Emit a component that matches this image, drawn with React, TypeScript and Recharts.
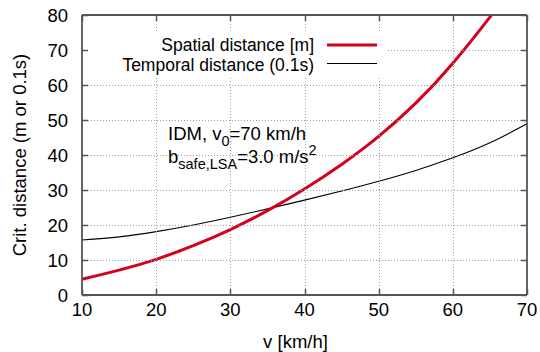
import { LineChart, Line, XAxis, YAxis, Legend } from "recharts";

// spatial critical distance [m] vs speed [km/h]; last point leaves the plot at the top
const spatialSpeeds = [10, 15, 20, 25, 30, 35, 40, 45, 50, 55, 60, 65, 66];
const spatialDistance = [4.5, 7.1, 10.2, 14.1, 18.7, 24.1, 30.3, 37.3, 45.3, 54.8, 66.2, 79.4, 82.2];

// temporal critical distance [0.1 s]
const temporalSpeeds = [10, 15, 20, 25, 30, 35, 40, 45, 50, 55, 60, 65, 70];
const temporalDistance = [15.7, 16.6, 18.1, 20.0, 22.2, 24.6, 27.1, 29.7, 32.5, 35.6, 39.2, 43.5, 48.9];

const xTicks = [10, 20, 30, 40, 50, 60, 70];
const yTicks = [0, 10, 20, 30, 40, 50, 60, 70, 80];

const X_MIN = 10;
const X_MAX = 70;
const Y_MIN = 0;
const Y_MAX = 80;

const spatialData = spatialSpeeds.map((v, i) => ({ v, d: spatialDistance[i] }));
const temporalData = temporalSpeeds.map((v, i) => ({ v, d: temporalDistance[i] }));

const W = 540;
const H = 352;
const MARGIN = { top: 15, right: 13, bottom: 0, left: 0 };
const Y_AXIS_W = 82;
const X_AXIS_H = 57;

// plot box from the layout above, for the grid overlay
const PL = MARGIN.left + Y_AXIS_W;
const PR = W - MARGIN.right;
const PT = MARGIN.top;
const PB = H - MARGIN.bottom - X_AXIS_H;
const sx = (v: number) => Math.round(PL + ((v - X_MIN) / (X_MAX - X_MIN)) * (PR - PL)) + 0.5;
const sy = (d: number) => Math.round(PB - ((d - Y_MIN) / (Y_MAX - Y_MIN)) * (PB - PT)) + 0.5;

const RED = "#d4001f";
const BORDER = "#555";
const GRID = "#a0a0a0";
const FONT = 18.5;
const TICK = 6;

const borderLine = { stroke: BORDER, strokeWidth: 1.8 };

// key box area, kept free of grid lines like the opaque gnuplot key
const KEY = { left: 83, top: 33, width: 303, height: 43 };

function KeyBox() {
  return (
    <svg width={KEY.width} height={KEY.height} style={{ display: "block" }}>
      <rect x={0} y={0} width={KEY.width} height={KEY.height} fill="#fff" />
      <text x={231} y={18} textAnchor="end" fontSize={17.5} fill="#000">
        Spatial distance [m]
      </text>
      <line x1={244} x2={294} y1={12} y2={12} stroke={RED} strokeWidth={3} />
      <text x={231} y={37.5} textAnchor="end" fontSize={17.5} fill="#000">
        Temporal distance (0.1s)
      </text>
      <line x1={244} x2={294} y1={30.5} y2={30.5} stroke="#000" strokeWidth={1.1} />
    </svg>
  );
}

function Overlay() {
  return (
    <svg width={W} height={H} style={{ position: "absolute", left: 0, top: 0, pointerEvents: "none" }}>
      <defs>
        <mask id="keymask">
          <rect x={0} y={0} width={W} height={H} fill="#fff" />
          <rect x={KEY.left} y={KEY.top} width={KEY.width} height={KEY.height} fill="#000" />
        </mask>
      </defs>
      <g mask="url(#keymask)">
        {xTicks.slice(1, -1).map((t) => (
          <line key={"gx" + t} x1={sx(t)} x2={sx(t)} y1={PT} y2={PB} stroke={GRID} strokeWidth={1} strokeDasharray="1 2" />
        ))}
        {yTicks.slice(1, -1).map((t) => (
          <line key={"gy" + t} x1={PL} x2={PR} y1={sy(t)} y2={sy(t)} stroke={GRID} strokeWidth={1} strokeDasharray="1 2" />
        ))}
      </g>
      {xTicks.map((t) => (
        <g key={"tx" + t} stroke={BORDER} strokeWidth={1.5}>
          <line x1={sx(t)} x2={sx(t)} y1={PB} y2={PB - TICK} />
          <line x1={sx(t)} x2={sx(t)} y1={PT} y2={PT + TICK} />
        </g>
      ))}
      {yTicks.map((t) => (
        <g key={"ty" + t} stroke={BORDER} strokeWidth={1.5}>
          <line x1={PL} x2={PL + TICK} y1={sy(t)} y2={sy(t)} />
          <line x1={PR} x2={PR - TICK} y1={sy(t)} y2={sy(t)} />
        </g>
      ))}
      <text x={168} y={140} fontSize={FONT} fill="#000">
        IDM, v
        <tspan dy={6} fontSize={14.5}>0</tspan>
        <tspan dy={-6}>=70 km/h</tspan>
      </text>
      <text x={168} y={163} fontSize={FONT} fill="#000">
        b
        <tspan dy={6} fontSize={14.5}>safe,LSA</tspan>
        <tspan dy={-6}>=3.0 m/s</tspan>
        <tspan dy={-8} fontSize={14.5}>2</tspan>
      </text>
    </svg>
  );
}

export default function App() {
  return (
    <div
      style={{
        position: "relative",
        width: W,
        height: H,
        fontFamily: "'Liberation Sans', Arial, sans-serif",
        background: "#fff",
      }}
    >
      <style>{"body{margin:0}"}</style>
      <LineChart width={W} height={H} data={temporalData} margin={MARGIN}>
        <XAxis
          dataKey="v"
          type="number"
          domain={[X_MIN, X_MAX]}
          ticks={xTicks}
          height={X_AXIS_H}
          axisLine={borderLine}
          tickLine={false}
          tickSize={0}
          tickMargin={8}
          tick={{ fontSize: FONT, fill: "#000" }}
          label={{ value: "v [km/h]", position: "insideBottom", offset: 4, dx: -9, fontSize: FONT, fill: "#000" }}
        />
        <YAxis
          type="number"
          domain={[Y_MIN, Y_MAX]}
          ticks={yTicks}
          allowDataOverflow
          width={Y_AXIS_W}
          axisLine={borderLine}
          tickLine={false}
          tickSize={0}
          tickMargin={14}
          tick={{ fontSize: FONT, fill: "#000" }}
          label={{
            value: "Crit. distance (m or 0.1s)",
            angle: -90,
            position: "insideLeft",
            offset: 19,
            fontSize: FONT,
            fill: "#000",
            style: { textAnchor: "middle" },
          }}
        />
        {/* top and right border */}
        <XAxis xAxisId="t" orientation="top" mirror type="number" domain={[X_MIN, X_MAX]} ticks={xTicks}
          axisLine={borderLine} tickLine={false} tick={false} />
        <YAxis yAxisId="r" orientation="right" mirror type="number" domain={[Y_MIN, Y_MAX]} ticks={yTicks}
          axisLine={borderLine} tickLine={false} tick={false} />

        <Legend
          layout="horizontal"
          verticalAlign="middle"
          align="center"
          content={() => <KeyBox />}
          wrapperStyle={{ position: "absolute", left: KEY.left, top: KEY.top, width: KEY.width, height: KEY.height }}
        />
        <Line
          data={temporalData}
          dataKey="d"
          name="Temporal distance (0.1s)"
          type="natural"
          stroke="#000"
          strokeWidth={1.1}
          dot={false}
          isAnimationActive={false}
        />
        <Line
          data={spatialData}
          dataKey="d"
          name="Spatial distance [m]"
          type="natural"
          stroke={RED}
          strokeWidth={3}
          dot={false}
          isAnimationActive={false}
        />
      </LineChart>
      <Overlay />
    </div>
  );
}
